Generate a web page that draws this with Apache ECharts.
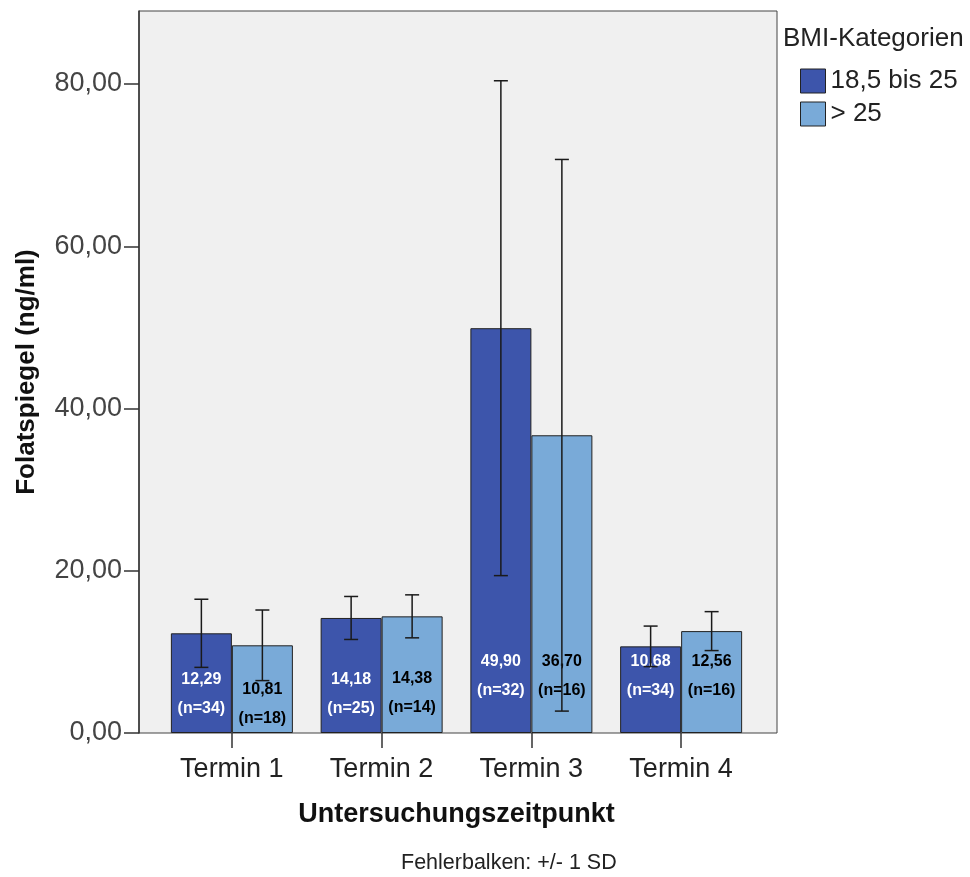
<!DOCTYPE html>
<html>
<head>
<meta charset="utf-8">
<script src="https://cdn.jsdelivr.net/npm/echarts@6/dist/echarts.min.js"></script>
<style>
  html, body { margin: 0; padding: 0; background: #ffffff; }
  #chart { width: 970px; height: 877px; }
</style>
</head>
<body>
<div id="chart"></div>
<script>
// Folate level by examination date, split by BMI category (mean +/- 1 SD)
const categories = ['Termin 1', 'Termin 2', 'Termin 3', 'Termin 4'];
const seriesNames = ['18,5 bis 25', '> 25'];
const meanNormal = [12.29, 14.18, 49.90, 10.68];
const meanOver = [10.81, 14.38, 36.70, 12.56];
const sdNormal = [4.20, 2.65, 30.50, 2.50];
const sdOver = [4.35, 2.65, 34.00, 2.40];
const nNormal = [34, 25, 32, 34];
const nOver = [18, 14, 16, 16];
const yTicks = [0, 20, 40, 60, 80];

const FONT = '"Liberation Sans", Arial, sans-serif';
const COLOR_DARK = '#3d55ab';
const COLOR_LIGHT = '#79aad8';
const BAR_W = 61;

const fmt = v => v.toFixed(2).replace('.', ',');

// label lift above the bar bottom (px), per category
const liftDark = [10, 10, 28, 28];
const liftLight = [0, 11, 28, 28];

function barData(means, ns, lifts, textColor) {
  return means.map((m, i) => ({
    value: m,
    label: {
      show: true,
      position: 'insideBottom',
      distance: lifts[i],
      formatter: fmt(m) + '\n(n=' + ns[i] + ')',
      color: textColor,
      fontFamily: FONT,
      fontSize: 16,
      fontWeight: 'bold',
      lineHeight: 29
    }
  }));
}

function errData(means, sds) {
  return means.map((m, i) => [i, m - sds[i], m + sds[i]]);
}

function errRenderer(side) {
  return function (params, api) {
    const i = api.value(0);
    const lo = api.coord([i, api.value(1)]);
    const hi = api.coord([i, api.value(2)]);
    const x = lo[0] + side * BAR_W / 2;
    const cap = 7;
    const style = { stroke: '#1a1a1a', lineWidth: 1.5 };
    return {
      type: 'group',
      children: [
        { type: 'line', shape: { x1: x, y1: lo[1], x2: x, y2: hi[1] }, style },
        { type: 'line', shape: { x1: x - cap, y1: hi[1], x2: x + cap, y2: hi[1] }, style },
        { type: 'line', shape: { x1: x - cap, y1: lo[1], x2: x + cap, y2: lo[1] }, style }
      ]
    };
  };
}

const chart = echarts.init(document.getElementById('chart'), null, { renderer: 'canvas' });

chart.setOption({
  animation: false,
  backgroundColor: '#ffffff',
  grid: [
    { // framed plot box
      left: 139, top: 11, width: 638, height: 722,
      show: true, backgroundColor: '#f0f0f0', borderColor: '#444444', borderWidth: 1
    },
    { // data area
      left: 157, top: 11, width: 599, height: 722
    }
  ],
  xAxis: [
    { gridIndex: 0, type: 'value', show: false, min: 0, max: 1 },
    {
      gridIndex: 1,
      type: 'category',
      data: categories,
      axisLine: { show: false },
      axisTick: { show: true, alignWithLabel: true, length: 15, lineStyle: { color: '#333333', width: 1.5 } },
      axisLabel: { margin: 23, fontFamily: FONT, fontSize: 27, color: '#222222' },
      name: 'Untersuchungszeitpunkt',
      nameLocation: 'middle',
      nameGap: 68,
      nameTextStyle: { fontFamily: FONT, fontSize: 27, fontWeight: 'bold', color: '#111111' }
    }
  ],
  yAxis: [
    { gridIndex: 0, type: 'value', show: false, min: 0, max: 1 },
    {
      gridIndex: 1,
      type: 'value',
      min: 0,
      max: 89,
      offset: 18,
      splitLine: { show: false },
      axisLine: { show: true, lineStyle: { color: '#333333', width: 1.5 } },
      axisTick: { show: true, length: 15, customValues: yTicks, lineStyle: { color: '#333333', width: 1.5 } },
      axisLabel: {
        customValues: yTicks,
        margin: 17,
        fontFamily: FONT, fontSize: 27, color: '#444444',
        formatter: v => fmt(v)
      },
      name: 'Folatspiegel (ng/ml)',
      nameLocation: 'middle',
      nameGap: 99,
      nameTextStyle: { fontFamily: FONT, fontSize: 26, fontWeight: 'bold', color: '#111111' }
    }
  ],
  legend: {
    left: 795,
    top: 63,
    orient: 'vertical',
    itemWidth: 25,
    itemHeight: 24,
    itemGap: 7,
    icon: 'rect',
    data: seriesNames,
    itemStyle: { borderColor: '#222222', borderWidth: 1 },
    textStyle: { fontFamily: FONT, fontSize: 26, color: '#222222' }
  },
  graphic: [
    {
      type: 'text', left: 783, top: 26,
      style: { text: 'BMI-Kategorien', fontFamily: FONT, fontSize: 26, fill: '#222222' }
    },
    {
      type: 'text', left: 401, top: 852,
      style: { text: 'Fehlerbalken: +/- 1 SD', fontFamily: FONT, fontSize: 21.5, fill: '#222222' }
    }
  ],
  series: [
    {
      name: seriesNames[0],
      type: 'bar',
      xAxisIndex: 1, yAxisIndex: 1,
      barWidth: BAR_W,
      barGap: '0%',
      itemStyle: { color: COLOR_DARK, borderColor: '#222222', borderWidth: 1 },
      data: barData(meanNormal, nNormal, liftDark, '#ffffff'),
      z: 2
    },
    {
      name: seriesNames[1],
      type: 'bar',
      xAxisIndex: 1, yAxisIndex: 1,
      barWidth: BAR_W,
      barGap: '0%',
      itemStyle: { color: COLOR_LIGHT, borderColor: '#222222', borderWidth: 1 },
      data: barData(meanOver, nOver, liftLight, '#000000'),
      z: 2
    },
    {
      type: 'custom',
      xAxisIndex: 1, yAxisIndex: 1,
      renderItem: errRenderer(-1),
      data: errData(meanNormal, sdNormal),
      z: 10
    },
    {
      type: 'custom',
      xAxisIndex: 1, yAxisIndex: 1,
      renderItem: errRenderer(1),
      data: errData(meanOver, sdOver),
      z: 10
    }
  ]
});
</script>
</body>
</html>
